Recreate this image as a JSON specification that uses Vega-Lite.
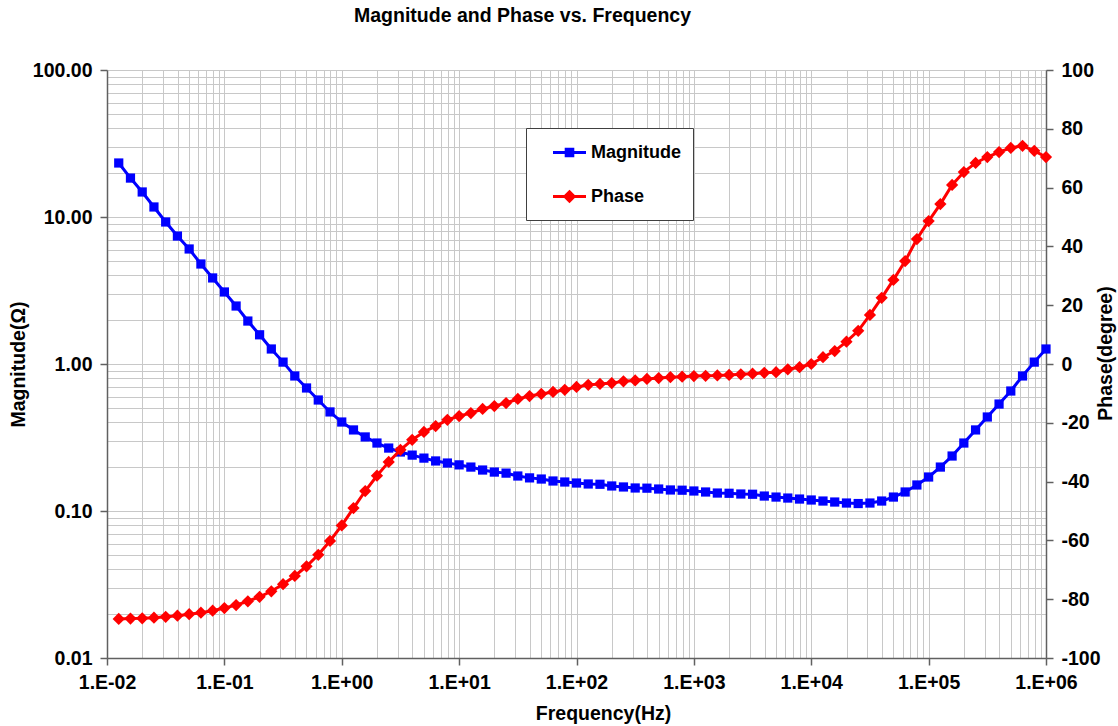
{
  "$schema": "https://vega.github.io/schema/vega-lite/v6.json",
  "width": 939,
  "height": 588,
  "autosize": {"type": "none"},
  "padding": {"left": 107, "top": 70, "right": 72, "bottom": 68},
  "background": "white",
  "config": {
    "font": "Liberation Sans",
    "view": {"stroke": null},
    "axis": {"labelFont": "Liberation Sans", "titleFont": "Liberation Sans", "labelFontWeight": "bold", "titleFontWeight": "bold", "labelColor": "#000", "titleColor": "#000", "labelFontSize": 19.5, "titleFontSize": 19.5}
  },
  "title": {"text": "Magnitude and Phase vs. Frequency", "fontSize": 19.5, "fontWeight": "bold", "font": "Liberation Sans", "anchor": "middle", "frame": "group", "dx": -54, "offset": 34, "color": "#000"},
  "data": {"values": [
    {"f": 0.012589, "mag": 23.3, "phase": -86.7},
    {"f": 0.015849, "mag": 18.4, "phase": -86.6},
    {"f": 0.019953, "mag": 14.8, "phase": -86.5},
    {"f": 0.025119, "mag": 11.7, "phase": -86.3},
    {"f": 0.031623, "mag": 9.25, "phase": -86.0},
    {"f": 0.039811, "mag": 7.42, "phase": -85.6},
    {"f": 0.050119, "mag": 6.06, "phase": -85.1},
    {"f": 0.063096, "mag": 4.79, "phase": -84.6},
    {"f": 0.079433, "mag": 3.85, "phase": -83.9},
    {"f": 0.1, "mag": 3.09, "phase": -83.0},
    {"f": 0.12589, "mag": 2.48, "phase": -82.0},
    {"f": 0.15849, "mag": 1.96, "phase": -80.7},
    {"f": 0.19953, "mag": 1.58, "phase": -79.2},
    {"f": 0.25119, "mag": 1.265, "phase": -77.3},
    {"f": 0.31623, "mag": 1.03, "phase": -74.9},
    {"f": 0.39811, "mag": 0.829, "phase": -72.1},
    {"f": 0.50119, "mag": 0.687, "phase": -68.8},
    {"f": 0.63096, "mag": 0.569, "phase": -64.9},
    {"f": 0.79433, "mag": 0.472, "phase": -60.2},
    {"f": 1, "mag": 0.403, "phase": -54.9},
    {"f": 1.2589, "mag": 0.356, "phase": -49.0},
    {"f": 1.5849, "mag": 0.319, "phase": -43.2},
    {"f": 1.9953, "mag": 0.29, "phase": -38.0},
    {"f": 2.5119, "mag": 0.268, "phase": -33.3},
    {"f": 3.1623, "mag": 0.252, "phase": -29.2},
    {"f": 3.9811, "mag": 0.24, "phase": -25.8},
    {"f": 5.0119, "mag": 0.229, "phase": -23.1},
    {"f": 6.3096, "mag": 0.219, "phase": -21.1},
    {"f": 7.9433, "mag": 0.212, "phase": -19.0},
    {"f": 10, "mag": 0.206, "phase": -17.7},
    {"f": 12.589, "mag": 0.199, "phase": -16.7},
    {"f": 15.849, "mag": 0.19, "phase": -15.3},
    {"f": 19.953, "mag": 0.184, "phase": -14.3},
    {"f": 25.119, "mag": 0.181, "phase": -13.3},
    {"f": 31.623, "mag": 0.173, "phase": -11.9},
    {"f": 39.811, "mag": 0.168, "phase": -10.9},
    {"f": 50.119, "mag": 0.165, "phase": -10.2},
    {"f": 63.096, "mag": 0.16, "phase": -9.5},
    {"f": 79.433, "mag": 0.1575, "phase": -8.8},
    {"f": 100, "mag": 0.155, "phase": -7.8},
    {"f": 125.89, "mag": 0.1527, "phase": -7.1},
    {"f": 158.49, "mag": 0.152, "phase": -6.8},
    {"f": 199.53, "mag": 0.148, "phase": -6.5},
    {"f": 251.19, "mag": 0.1457, "phase": -5.9},
    {"f": 316.23, "mag": 0.1434, "phase": -5.6},
    {"f": 398.11, "mag": 0.143, "phase": -5.1},
    {"f": 501.19, "mag": 0.1411, "phase": -4.8},
    {"f": 630.96, "mag": 0.139, "phase": -4.5},
    {"f": 794.33, "mag": 0.1385, "phase": -4.3},
    {"f": 1000, "mag": 0.1368, "phase": -4.1},
    {"f": 1258.9, "mag": 0.1347, "phase": -4.0},
    {"f": 1584.9, "mag": 0.1325, "phase": -3.9},
    {"f": 1995.3, "mag": 0.132, "phase": -3.7},
    {"f": 2511.9, "mag": 0.1305, "phase": -3.5},
    {"f": 3162.3, "mag": 0.13, "phase": -3.3},
    {"f": 3981.1, "mag": 0.1264, "phase": -3.0},
    {"f": 5011.9, "mag": 0.1244, "phase": -2.8},
    {"f": 6309.6, "mag": 0.1225, "phase": -1.8},
    {"f": 7943.3, "mag": 0.1206, "phase": -1.1},
    {"f": 10000, "mag": 0.1188, "phase": 0.0},
    {"f": 12589, "mag": 0.1169, "phase": 2.3},
    {"f": 15849, "mag": 0.1151, "phase": 4.4},
    {"f": 19953, "mag": 0.1133, "phase": 7.6},
    {"f": 25119, "mag": 0.1124, "phase": 11.3},
    {"f": 31623, "mag": 0.1133, "phase": 16.7},
    {"f": 39811, "mag": 0.1169, "phase": 22.5},
    {"f": 50119, "mag": 0.1244, "phase": 28.6},
    {"f": 63096, "mag": 0.1347, "phase": 35.0},
    {"f": 79433, "mag": 0.1503, "phase": 42.5},
    {"f": 100000, "mag": 0.1703, "phase": 48.6},
    {"f": 125890, "mag": 0.199, "phase": 54.4},
    {"f": 158490, "mag": 0.2366, "phase": 60.9},
    {"f": 199530, "mag": 0.29, "phase": 65.3},
    {"f": 251190, "mag": 0.356, "phase": 68.4},
    {"f": 316230, "mag": 0.436, "phase": 70.4},
    {"f": 398110, "mag": 0.534, "phase": 72.1},
    {"f": 501190, "mag": 0.655, "phase": 73.5},
    {"f": 630960, "mag": 0.829, "phase": 74.2},
    {"f": 794330, "mag": 1.03, "phase": 72.5},
    {"f": 1000000, "mag": 1.265, "phase": 70.4}
  ]},
  "encoding": {
    "x": {
      "field": "f", "type": "quantitative",
      "scale": {"type": "log", "domain": [0.01, 1000000], "nice": false},
      "axis": {
        "orient": "bottom",
        "values": [0.01,0.02,0.03,0.04,0.05,0.06,0.07,0.08,0.09,0.1,0.2,0.3,0.4,0.5,0.6,0.7,0.8,0.9,1,2,3,4,5,6,7,8,9,10,20,30,40,50,60,70,80,90,100,200,300,400,500,600,700,800,900,1000,2000,3000,4000,5000,6000,7000,8000,9000,10000,20000,30000,40000,50000,60000,70000,80000,90000,100000,200000,300000,400000,500000,600000,700000,800000,900000,1000000],
        "grid": true, "gridColor": "#c8c8c8", "gridWidth": 1,
        "domainColor": "#606060", "domainWidth": 1.5,
        "tickColor": "#606060", "tickSize": 7, "tickWidth": 1.5,
        "tickOpacity": {"condition": {"test": "indexof([0.01,0.1,1,10,100,1000,10000,100000,1000000], datum.value) >= 0", "value": 1}, "value": 0},
        "labelExpr": "indexof([0.01,0.1,1,10,100,1000,10000,100000,1000000], datum.value) >= 0 ? '1.E' + replace(format(round(log(datum.value)/LN10), '+03d'), '\u2212', '-') : ''",
        "labelOverlap": false, "labelFlush": false, "labelPadding": 8,
        "title": "Frequency(Hz)", "titleX": 496, "titleY": 55, "titleBaseline": "middle", "titleAlign": "center"
      }
    }
  },
  "layer": [
    {
      "mark": {"type": "line", "strokeWidth": 3, "point": {"shape": "square", "size": 85, "filled": true}},
      "encoding": {
        "y": {
          "field": "mag", "type": "quantitative",
          "scale": {"type": "log", "domain": [0.01, 100], "nice": false},
          "axis": {
            "orient": "left",
            "values": [0.01,0.02,0.03,0.04,0.05,0.06,0.07,0.08,0.09,0.1,0.2,0.3,0.4,0.5,0.6,0.7,0.8,0.9,1,2,3,4,5,6,7,8,9,10,20,30,40,50,60,70,80,90,100],
            "grid": true, "gridColor": "#c8c8c8", "gridWidth": 1,
            "domainColor": "#606060", "domainWidth": 1.5,
            "tickColor": "#606060", "tickSize": 7, "tickWidth": 1.5,
            "tickOpacity": {"condition": {"test": "indexof([0.01,0.1,1,10,100], datum.value) >= 0", "value": 1}, "value": 0},
            "labelExpr": "indexof([0.01,0.1,1,10,100], datum.value) >= 0 ? format(datum.value, '.2f') : ''",
            "labelOverlap": false, "labelFlush": false, "labelPadding": 8,
            "title": "Magnitude(Ω)", "titleAngle": 270, "titleX": -89, "titleY": 294, "titleBaseline": "middle", "titleAlign": "center"
          }
        },
        "color": {
          "datum": "Magnitude", "type": "nominal",
          "scale": {"domain": ["Magnitude", "Phase"], "range": ["#0000FF", "#FF0000"]},
          "legend": {
            "orient": "none", "legendX": 419, "legendY": 58, "title": null,
            "padding": 12, "rowPadding": 22, "symbolOffset": 19, "labelOffset": 9,
            "labelFont": "Liberation Sans", "labelFontSize": 18, "labelFontWeight": "bold", "labelColor": "#000",
            "strokeColor": "#404040", "fillColor": "white", "symbolSize": 484,
            "encode": {"symbols": {"update": {
              "shape": {"signal": "datum.value === 'Magnitude' ? 'M-1.5,0H1.5M-0.3,-0.3H0.3V0.3H-0.3Z' : 'M-1.5,0H1.5M0,-0.42L0.42,0L0,0.42L-0.42,0Z'"},
              "fill": {"signal": "datum.value === 'Magnitude' ? '#0000FF' : '#FF0000'"},
              "stroke": {"signal": "datum.value === 'Magnitude' ? '#0000FF' : '#FF0000'"},
              "strokeWidth": {"value": 3},
              "size": {"value": 484},
              "opacity": {"value": 1}
            }}}
          }
        }
      }
    },
    {
      "mark": {"type": "line", "strokeWidth": 3, "point": {"shape": "diamond", "size": 150, "filled": true}},
      "encoding": {
        "y": {
          "field": "phase", "type": "quantitative",
          "scale": {"domain": [-100, 100], "nice": false, "zero": false},
          "axis": {
            "orient": "right",
            "values": [-100,-80,-60,-40,-20,0,20,40,60,80,100],
            "grid": false,
            "domainColor": "#606060", "domainWidth": 1.5,
            "tickColor": "#606060", "tickSize": 7, "tickWidth": 1.5,
            "labelExpr": "'' + datum.value",
            "labelPadding": 8, "labelOverlap": false, "labelFlush": false,
            "title": "Phase(degree)", "titleAngle": 270, "titleX": 59, "titleY": 283, "titleBaseline": "middle", "titleAlign": "center"
          }
        },
        "color": {"datum": "Phase", "type": "nominal"}
      }
    }
  ],
  "resolve": {"scale": {"y": "independent"}}
}
